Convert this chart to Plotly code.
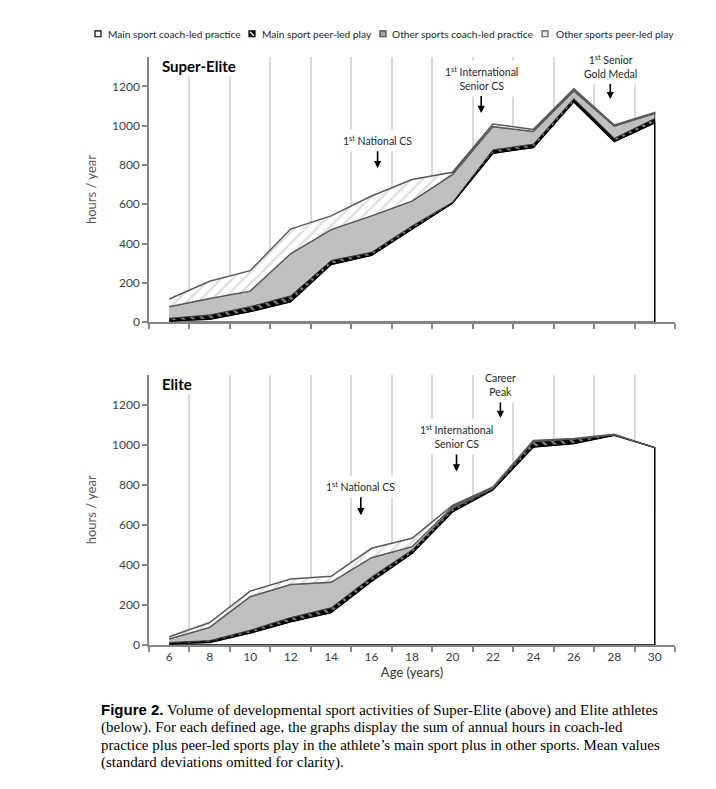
import plotly.graph_objects as go

# ages on the x axis (every 2 years)
ages = [6, 8, 10, 12, 14, 16, 18, 20, 22, 24, 26, 28, 30]

# Super-Elite, hours / year (mean values)
se_main_coach = [7, 15, 54, 104, 294, 340, 473, 605, 860, 889, 1121, 919, 1015]
se_main_peer = [13, 22, 25, 30, 20, 16, 17, 5, 17, 17, 17, 17, 22]
se_other_coach = [59, 84, 79, 214, 157, 185, 126, 141, 118, 64, 39, 62, 25]
se_other_peer = [39, 87, 104, 126, 70, 101, 110, 12, 13, 11, 11, 5, 5]

# Elite, hours / year
el_main_coach = [7, 13, 60, 116, 162, 318, 458, 665, 775, 989, 1006, 1048, 986]
el_main_peer = [6, 9, 14, 21, 24, 22, 17, 16, 5, 27, 22, 2, 0]
el_other_coach = [17, 66, 167, 165, 127, 96, 16, 8, 5, 2, 2, 1, 0]
el_other_peer = [11, 24, 28, 28, 30, 47, 42, 8, 4, 4, 2, 1, 0]

series_names = ["Main sport coach-led practice", "Main sport peer-led play",
                "Other sports coach-led practice", "Other sports peer-led play"]

# milestones: (label, age, arrow head height, pixel offset of the label above the head)
se_marks = [("1<sup>st</sup> National CS", 16.3, 783, -28),
            ("1<sup>st</sup> International<br>Senior CS", 21.42, 1064, -35),
            ("1<sup>st</sup> Senior<br>Gold Medal", 27.8, 1135, -33)]
el_marks = [("1<sup>st</sup> National CS", 15.47, 648, -29),
            ("1<sup>st</sup> International<br>Senior CS", 20.2, 867, -35),
            ("Career<br>Peak", 22.37, 1134, -33)]

FONT = "Lato, Open Sans, sans-serif"

styles = [
    dict(fillcolor="white", line=dict(color="black", width=1.5)),
    dict(fillcolor="black", line=dict(color="black", width=1),
         fillpattern=dict(shape="\\", fgcolor="white", bgcolor="black", size=7, solidity=0.35)),
    dict(fillcolor="#bfbfbf", line=dict(color="#404040", width=1)),
    dict(fillcolor="white", line=dict(color="#595959", width=1.5),
         fillpattern=dict(shape="/", fgcolor="#bdbdbd", bgcolor="white", size=8, solidity=0.3)),
]

fig = go.Figure()


def add_panel(layers, xa, ya):
    lower = [0] * len(ages)
    for name, vals, st in zip(series_names, layers, styles):
        upper = [a + b for a, b in zip(lower, vals)]
        fig.add_trace(go.Scatter(
            x=ages + ages[::-1], y=upper + lower[::-1],
            fill="toself", mode="lines", name=name, showlegend=False,
            xaxis=xa, yaxis=ya, hoverinfo="skip", **st))
        lower = upper


add_panel([se_main_coach, se_main_peer, se_other_coach, se_other_peer], "x", "y")
add_panel([el_main_coach, el_main_peer, el_other_coach, el_other_peer], "x2", "y2")

xdom = [141 / 716, 667 / 716]
axis_x = dict(range=[5, 31], domain=xdom, tickvals=ages, ticks="", showgrid=False,
              showline=True, linecolor="#868686", linewidth=1.5, zeroline=False,
              tickfont=dict(family=FONT, size=12, color="#404040"),
              minor=dict(tick0=5, dtick=2, showgrid=True, gridcolor="#d9d9d9", gridwidth=1.5,
                         ticks="outside", ticklen=5, tickcolor="#868686", tickwidth=1.5))
axis_y = dict(range=[0, 1350], tickvals=[0, 200, 400, 600, 800, 1000, 1200], showgrid=False,
              showline=True, linecolor="#868686", linewidth=1.5, zeroline=False,
              ticks="outside", ticklen=5, tickcolor="#868686", tickwidth=1.5,
              tickfont=dict(family=FONT, size=12, color="#404040"),
              title=dict(text="hours / year", font=dict(family=FONT, size=13, color="#595959"),
                         standoff=12))

fig.update_layout(
    width=716, height=789, margin=dict(l=0, r=0, t=0, b=0),
    paper_bgcolor="white", plot_bgcolor="white",
    xaxis=dict(axis_x, showticklabels=False, anchor="y"),
    yaxis=dict(axis_y, domain=[1 - 317 / 789, 1 - 49.3 / 789], anchor="x"),
    xaxis2=dict(axis_x, anchor="y2",
                title=dict(text="Age (years)", font=dict(family=FONT, size=13, color="#333333"),
                           standoff=2)),
    yaxis2=dict(axis_y, domain=[1 - 642.7 / 789, 1 - 370 / 789], anchor="x2"),
)

# panel titles
for txt, xr, yr in [("Super-Elite", "x domain", "y domain"), ("Elite", "x2 domain", "y2 domain")]:
    fig.add_annotation(text="<b>%s</b>" % txt, xref=xr, yref=yr, x=0.02, y=0.965,
                       xanchor="left", yanchor="middle", showarrow=False, bgcolor="white",
                       font=dict(family=FONT, size=15, color="black"))

# milestone labels with their arrows
for marks, xr, yr in [(se_marks, "x", "y"), (el_marks, "x2", "y2")]:
    for label, age, head, off in marks:
        fig.add_annotation(text=label, x=age, y=head, xref=xr, yref=yr, showarrow=True,
                           ax=0, ay=off, arrowhead=2, arrowsize=0.9, arrowwidth=1.6,
                           arrowcolor="black", bgcolor="white", borderpad=4,
                           font=dict(family=FONT, size=10.5, color="#262626"))

# legend row at the top
leg_y = 1 - 26 / 789
leg_items = [(87, 98, "white", "black"), (241, 252, "black", "black"),
             (372, 382, "#a6a6a6", "#404040"), (534, 546, "#e8e8e8", "#595959")]
for (sx, tx, fc, lc), name in zip(leg_items, series_names):
    fig.add_shape(type="rect", xref="paper", yref="paper",
                  x0=sx / 716, x1=(sx + 6) / 716, y0=leg_y - 3 / 789, y1=leg_y + 3 / 789,
                  fillcolor=fc, line=dict(color=lc, width=1.2))
    fig.add_annotation(text=name, xref="paper", yref="paper", x=tx / 716, y=leg_y,
                       xanchor="left", yanchor="middle", showarrow=False,
                       font=dict(family=FONT, size=10.2, color="#262626"))
fig.add_shape(type="line", xref="paper", yref="paper",
              x0=242 / 716, x1=246 / 716, y0=leg_y + 2 / 789, y1=leg_y - 2 / 789,
              line=dict(color="white", width=1.2))

# figure caption
caption = [
    '<span style="font-family:Liberation Sans"><b>Figure 2.</b></span> Volume of developmental '
    'sport activities of Super-Elite (above) and Elite athletes',
    "(below). For each defined age, the graphs display the sum of annual hours in coach-led",
    "practice plus peer-led sports play in the athlete\u2019s main sport plus in other sports. Mean values",
    "(standard deviations omitted for clarity).",
]
for i, line in enumerate(caption):
    fig.add_annotation(text=line, xref="paper", yref="paper", x=91 / 716,
                       y=1 - (708 + i * 17.7) / 789, xanchor="left", yanchor="middle",
                       showarrow=False,
                       font=dict(family="Liberation Serif, Times New Roman, serif", size=15,
                                 color="black"))

fig.write_html("out.html")
